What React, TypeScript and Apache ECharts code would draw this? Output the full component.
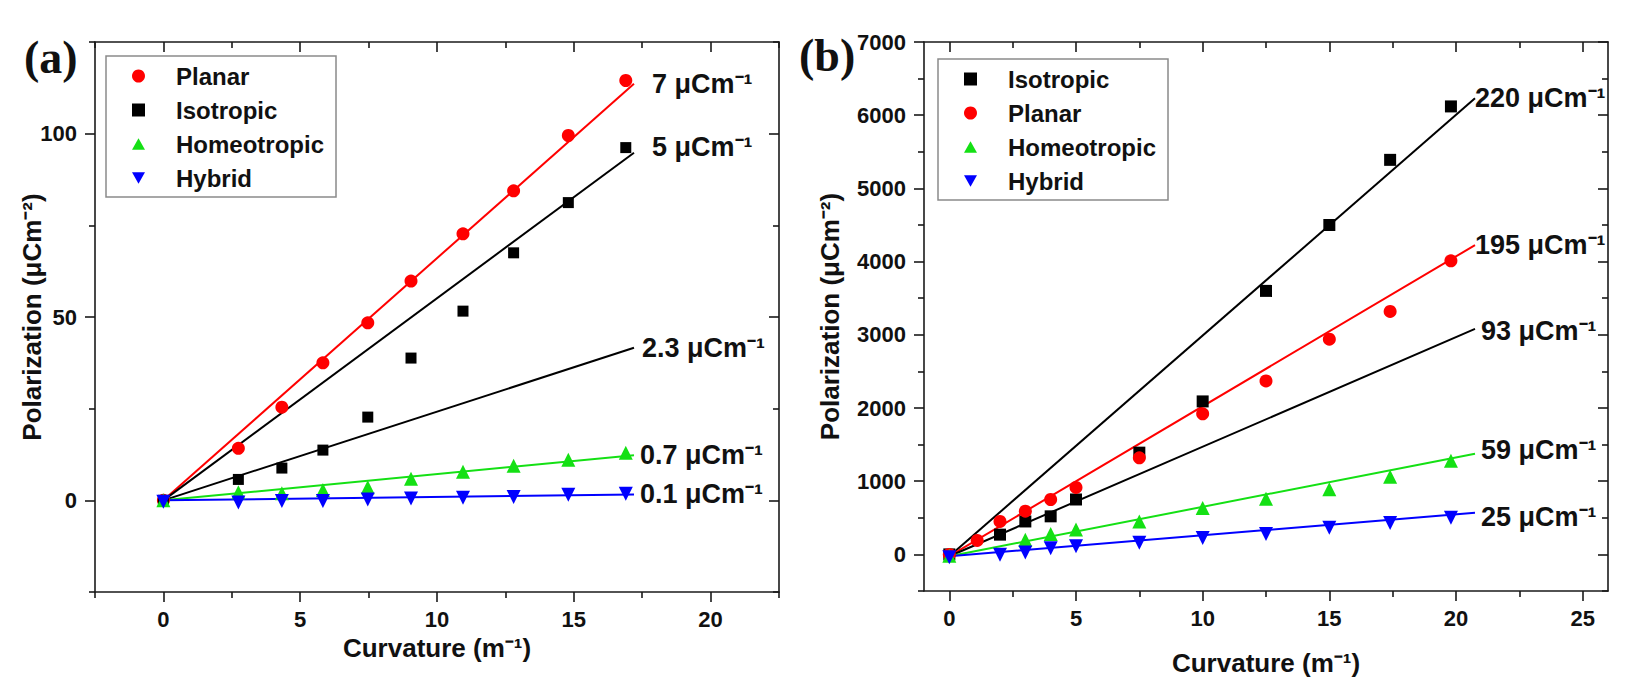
import { useEffect, useRef } from 'react';
import * as echarts from 'echarts';

const FONT = '"Liberation Sans", Arial, sans-serif';
const RED = '#ff0000';
const BLACK = '#000000';
const GREEN = '#14e014';
const BLUE = '#0000ff';
const SQUARE = 'path://M0,0L1,0L1,1L0,1Z';
const UP_TRI = 'path://M1,0L2,1.732L0,1.732Z';
const DOWN_TRI = 'path://M0,0L2,0L1,1.732Z';

// ---- panel (a) ----
const curvA = [0, 2.74, 4.33, 5.83, 7.47, 9.05, 10.95, 12.8, 14.8, 16.9];
const planarA = [0, 14.2, 25.4, 37.5, 48.4, 59.8, 72.7, 84.4, 99.5, 114.5];
const isoA = [0, 5.7, 8.8, 13.7, 22.7, 38.8, 51.6, 67.5, 81.2, 96.2];
const homeoA = [0, 2.2, 1.9, 2.8, 3.6, 5.9, 7.8, 9.4, 11.1, 13.0];
const hybridA = [-0.4, -0.6, -0.2, -0.2, 0.2, 0.5, 0.7, 0.9, 1.5, 1.8];
const fitEndXA = 17.2;
const fitEndA = [113.6, 94.8, 41.6, 12.3, 1.6];
const fitColorA = [RED, BLACK, BLACK, GREEN, BLUE];
const fitTextA = ['7 μCm⁻¹', '5 μCm⁻¹', '2.3 μCm⁻¹', '0.7 μCm⁻¹', '0.1 μCm⁻¹'];
const fitOffsetA = [[12, 0], [12, -6], [2, 0], [0, 0], [0, 0]];
const legendA = ['Planar', 'Isotropic', 'Homeotropic', 'Hybrid'];
const xMajorA = [0, 5, 10, 15, 20];
const xMinorA = [-2.5, 2.5, 7.5, 12.5, 17.5, 22.5];
const yMajorA = [0, 50, 100];
const yMinorA = [-25, 25, 75, 125];

// ---- panel (b) ----
const curvIsoB = [0, 2, 3, 4, 5, 7.5, 10, 12.5, 15, 17.4, 19.8];
const isoB = [0, 270, 450, 520, 750, 1390, 2090, 3600, 4500, 5390, 6120];
const curvPlanarB = [0, 1.1, 2, 3, 4, 5, 7.5, 10, 12.5, 15, 17.4, 19.8];
const planarB = [0, 190, 450, 590, 750, 915, 1320, 1920, 2370, 2940, 3320, 4010];
const curvHomeoB = [0, 3, 4, 5, 7.5, 10, 12.5, 15, 17.4, 19.8];
const homeoB = [-20, 200, 280, 340, 450, 635, 760, 890, 1060, 1280];
const curvHybridB = [0, 2, 3, 4, 5, 7.5, 10, 12.5, 15, 17.4, 19.8];
const hybridB = [-40, -5, 25, 85, 110, 160, 225, 280, 365, 430, 500];
const fitEndXB = 20.75;
const fitStartB = -25;
const fitEndB = [6230, 4225, 3080, 1375, 570];
const fitColorB = [BLACK, RED, BLACK, GREEN, BLUE];
const fitTextB = ['220 μCm⁻¹', '195 μCm⁻¹', '93 μCm⁻¹', '59 μCm⁻¹', '25 μCm⁻¹'];
const fitOffsetB = [[-6, 0], [-6, 0], [0, 2], [0, -4], [0, 4]];
const legendB = ['Isotropic', 'Planar', 'Homeotropic', 'Hybrid'];
const xMajorB = [0, 5, 10, 15, 20, 25];
const xMinorB = [2.5, 7.5, 12.5, 17.5, 22.5];
const yMajorB = [0, 1000, 2000, 3000, 4000, 5000, 6000, 7000];
const yMinorB = [-500, 500, 1500, 2500, 3500, 4500, 5500, 6500];

const zip = (xs: number[], ys: number[]) => xs.map((x, i) => [x, ys[i]]);

function frameAxes(
  dim: 'x' | 'y', grid: number, min: number, max: number,
  major: number[], minor: number[], name: string, nameGap: number, labelMargin: number,
) {
  const sides = dim === 'x' ? ['bottom', 'top'] : ['left', 'right'];
  const axes: any[] = [];
  sides.forEach((pos, s) => {
    [major, minor].forEach((vals, m) => {
      const main = s === 0 && m === 0;
      axes.push({
        type: 'value', gridIndex: grid, position: pos, min, max,
        name: main ? name : '',
        nameLocation: 'middle', nameGap, nameMoveOverlap: false,
        nameTextStyle: { fontSize: 26, fontWeight: 'bold', fontFamily: FONT, color: '#111' },
        axisLine: { show: m === 0, onZero: false, lineStyle: { color: '#1a1a1a', width: 1.6 } },
        axisTick: {
          show: true, inside: s === 1, length: m === 0 ? 10 : 6, customValues: vals,
          lineStyle: { color: '#1a1a1a', width: 1.6 },
        },
        axisLabel: {
          show: main, customValues: vals, margin: labelMargin,
          formatter: (v: number) => String(v),
          fontSize: 22, fontWeight: 'bold', fontFamily: FONT, color: '#111',
        },
        splitLine: { show: false },
      });
    });
  });
  return axes;
}

function scatter(name: string, data: number[][], symbol: string, size: number, color: string, axis: number) {
  return {
    type: 'scatter', name, data, symbol, symbolSize: size,
    itemStyle: { color, opacity: 1 }, xAxisIndex: axis, yAxisIndex: axis, z: 3,
  };
}

function fit(endX: number, startY: number, endY: number, color: string, text: string, offset: number[], axis: number) {
  return {
    type: 'line', name: text, data: [[0, startY], [endX, endY]], showSymbol: false, symbol: 'none',
    xAxisIndex: axis, yAxisIndex: axis, z: 2,
    lineStyle: { color, width: 2 },
    endLabel: {
      show: true, formatter: text, distance: 6, offset,
      fontSize: 27, fontWeight: 'bold', fontFamily: FONT, color: '#111',
    },
  };
}

function legend(left: number, top: number, data: string[]) {
  return {
    left, top, orient: 'vertical', data, selectedMode: false,
    itemWidth: 13, itemHeight: 13, itemGap: 10, symbolKeepAspect: true,
    padding: [8, 12, 7, 26],
    borderColor: '#8a8a8a', borderWidth: 1.5,
    textStyle: {
      fontSize: 24, fontWeight: 'bold', fontFamily: FONT, color: '#111', lineHeight: 22,
      padding: [0, 0, 0, 26],
    },
  };
}

export default function App() {
  const ref = useRef<HTMLDivElement>(null);

  useEffect(() => {
    if (!ref.current) return;
    document.body.style.margin = '0';
    const chart = echarts.init(ref.current, null, { renderer: 'svg' });

    chart.setOption({
      animation: false,
      backgroundColor: '#ffffff',
      grid: [
        { left: 95, top: 42, width: 684, height: 550, outerBoundsMode: 'none' },
        { left: 924, top: 42, width: 684, height: 549, outerBoundsMode: 'none' },
      ],
      xAxis: [
        ...frameAxes('x', 0, -2.5, 22.5, xMajorA, xMinorA, 'Curvature (m⁻¹)', 43, 16),
        ...frameAxes('x', 1, -1, 26, xMajorB, xMinorB, 'Curvature (m⁻¹)', 59, 16),
      ],
      yAxis: [
        ...frameAxes('y', 0, -25, 125, yMajorA, yMinorA, 'Polarization (μCm⁻²)', 50, 18),
        ...frameAxes('y', 1, -500, 7000, yMajorB, yMinorB, 'Polarization (μCm⁻²)', 81, 18),
      ],
      legend: [legend(106, 56, legendA), legend(938, 59, legendB)],
      graphic: [
        { type: 'text', left: 24, top: 34, style: { text: '(a)', fontSize: 46, fontWeight: 'bold', fontFamily: '"Liberation Serif", "Times New Roman", serif', fill: '#111' } },
        { type: 'text', left: 799, top: 32, style: { text: '(b)', fontSize: 46, fontWeight: 'bold', fontFamily: '"Liberation Serif", "Times New Roman", serif', fill: '#111' } },
      ],
      series: [
        ...fitEndA.map((y, i) => fit(fitEndXA, 0, y, fitColorA[i], fitTextA[i], fitOffsetA[i], 0)),
        scatter('Planar', zip(curvA, planarA), 'circle', 13, RED, 0),
        scatter('Isotropic', zip(curvA, isoA), SQUARE, 11, BLACK, 0),
        scatter('Homeotropic', zip(curvA, homeoA), UP_TRI, 14, GREEN, 0),
        scatter('Hybrid', zip(curvA, hybridA), DOWN_TRI, 14, BLUE, 0),
        ...fitEndB.map((y, i) => fit(fitEndXB, fitStartB, y, fitColorB[i], fitTextB[i], fitOffsetB[i], 4)),
        scatter('Isotropic', zip(curvIsoB, isoB), SQUARE, 12, BLACK, 4),
        scatter('Planar', zip(curvPlanarB, planarB), 'circle', 13, RED, 4),
        scatter('Homeotropic', zip(curvHomeoB, homeoB), UP_TRI, 14, GREEN, 4),
        scatter('Hybrid', zip(curvHybridB, hybridB), DOWN_TRI, 14, BLUE, 4),
      ],
    });

    return () => chart.dispose();
  }, []);

  return <div ref={ref} style={{ width: 1632, height: 691 }} />;
}
